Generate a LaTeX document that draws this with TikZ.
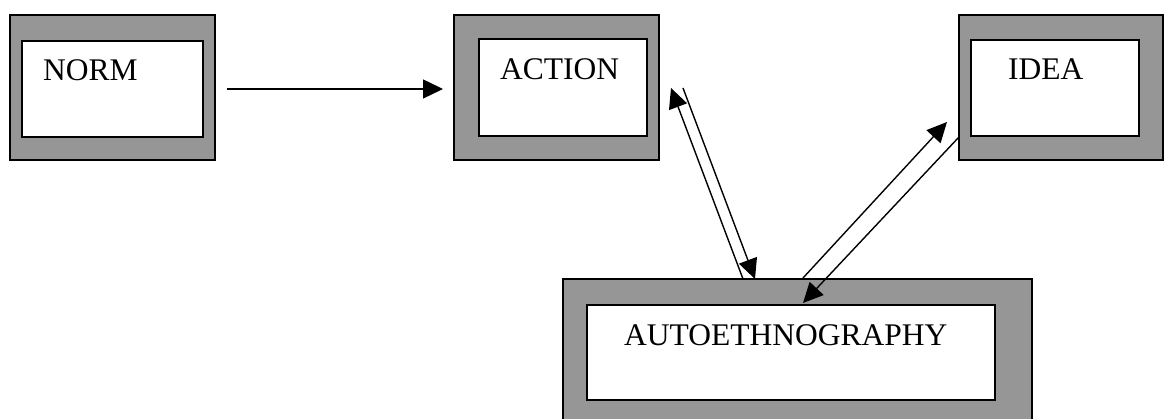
\documentclass[tikz,border=0pt]{standalone}
\usepackage{fontspec}
\setmainfont{Liberation Serif}
\usetikzlibrary{arrows.meta,calc}
\definecolor{framegray}{RGB}{150,150,150}
\tikzset{
  frame/.style={draw=black,fill=framegray,line width=1.5pt,anchor=north west,
    inner sep=0pt,outer sep=0pt},
  panel/.style={draw=black,fill=white,line width=1.5pt,anchor=north west,
    inner sep=0pt,outer sep=0pt},
  caption/.style={anchor=base west,inner sep=0pt,
    font=\fontsize{31.5}{36}\selectfont},
  link/.style={line width=1.4pt,-{Triangle[length=20pt,width=19pt]}},
}
\begin{document}
\begin{tikzpicture}[x=1pt,y=-1pt]
\clip (0,0) rectangle (1165,419);
\fill[white] (0,0) rectangle (1165,419);

% outer grey frames
\node[frame,minimum width=205pt,minimum height=145pt] (normF) at (10,15) {};
\node[frame,minimum width=205pt,minimum height=145pt] (actionF) at (454,15) {};
\node[frame,minimum width=204pt,minimum height=145pt] (ideaF) at (959,15) {};
\node[frame,minimum width=469pt,minimum height=160pt] (autoF) at (563,279) {};

% inner white panels
\node[panel,minimum width=181pt,minimum height=96pt] (norm) at (22,41) {};
\node[panel,minimum width=168pt,minimum height=97pt] (action) at (479,39) {};
\node[panel,minimum width=168pt,minimum height=96pt] (idea) at (971,40) {};
\node[panel,minimum width=408pt,minimum height=95pt] (auto) at (587,305) {};

% labels
\node[caption] (normT) at (43,81) {NORM};
\node[caption] (actionT) at (500,80) {ACTION};
\node[caption] (ideaT) at (1008,80) {IDEA};
\node[caption] (autoT) at (624,346) {AUTOETHNOGRAPHY};

% connector end points, placed relative to the frames
\coordinate (n1) at ($(normF.north east)+(12,74)$);
\coordinate (a1) at ($(actionF.north west)+(-11,74)$);
\coordinate (a2) at ($(actionF.north east)+(12,73)$);
\coordinate (a3) at ($(actionF.north east)+(24,73)$);
\coordinate (u1) at ($(autoF.north west)+(180,0)$);
\coordinate (u2) at ($(autoF.north west)+(192,0)$);
\coordinate (u3) at ($(autoF.north west)+(240,-1)$);
\coordinate (u4) at ($(auto.north west)+(216,-2)$);
\coordinate (i1) at ($(ideaF.north west)+(-12,107)$);
\coordinate (i2) at ($(ideaF.north west)+(0,122)$);

% connectors
\draw[link] (n1) -- (a1);
\draw[link] (u1) -- (a2);
\draw[link] (a3) -- (u2);
\draw[link] (u3) -- (i1);
\draw[link] (i2) -- (u4);
\end{tikzpicture}
\end{document}
